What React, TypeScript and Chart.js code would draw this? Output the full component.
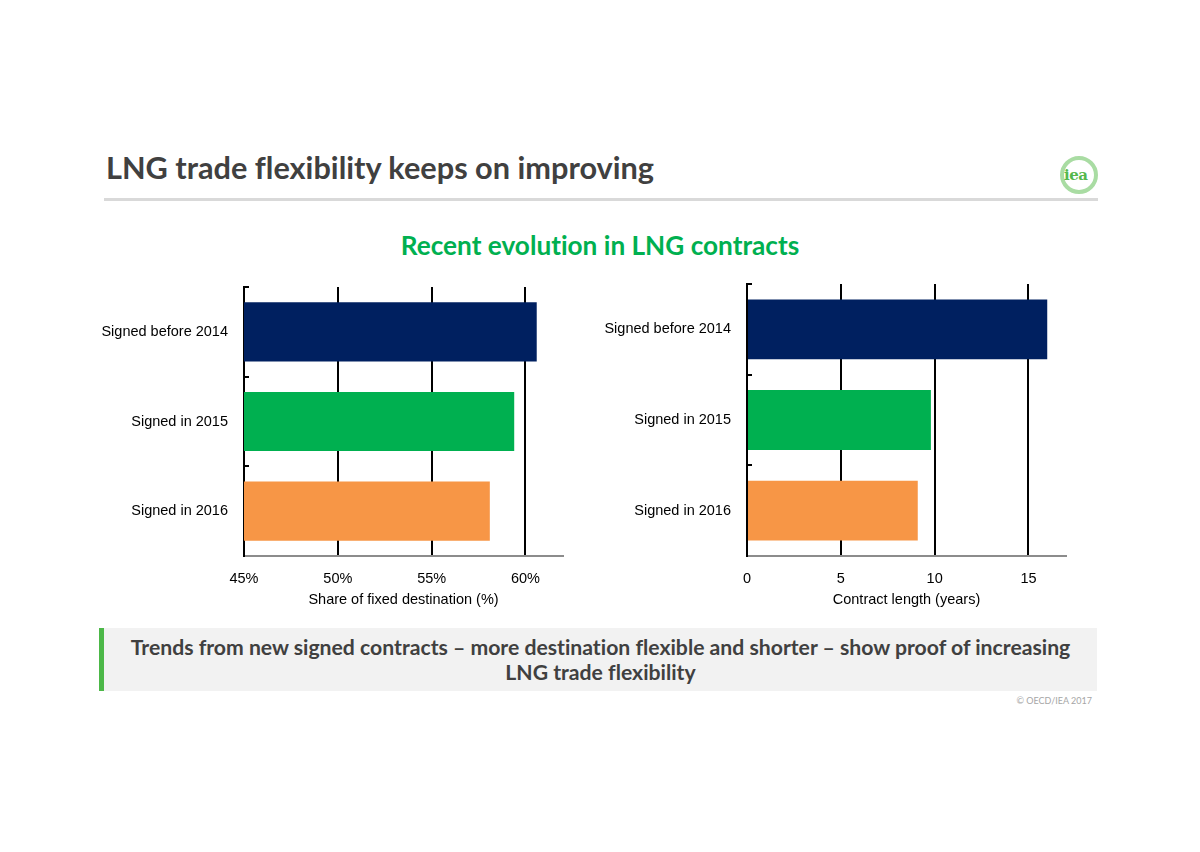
import React, { useEffect, useRef } from "react";
import { Chart, registerables } from "chart.js";

Chart.register(...registerables);

// Contract categories and bar colours
const categories = ["Signed before 2014", "Signed in 2015", "Signed in 2016"];
const barColors = ["#002060", "#00b050", "#f79646"];

// Share of contracts with fixed destination (%)
const fixedDestinationShare = [60.6, 59.4, 58.1];
// Average contract length (years)
const contractLengthYears = [16.0, 9.8, 9.1];

const AXIS_FONT = "'Liberation Sans', Arial, sans-serif";
const HEADING_FONT = "Lato, 'Open Sans', sans-serif";

type PanelProps = {
  values: number[];
  min: number;
  max: number;
  step: number;
  format: (v: number) => string;
  axisTitle: string;
  yWidth: number;
  padding: { top: number; right: number; bottom: number; left: number };
  style: React.CSSProperties;
};

function BarPanel(props: PanelProps) {
  const ref = useRef<HTMLCanvasElement | null>(null);
  useEffect(() => {
    if (!ref.current) return;
    const font = { family: AXIS_FONT, size: 14.5 };
    const chart = new Chart(ref.current, {
      type: "bar",
      data: {
        labels: categories,
        datasets: [
          {
            data: props.values,
            backgroundColor: barColors,
            borderWidth: 0,
            barPercentage: 0.66,
            categoryPercentage: 1,
          },
        ],
      },
      options: {
        indexAxis: "y",
        responsive: false,
        animation: false,
        layout: { padding: props.padding },
        plugins: { legend: { display: false }, tooltip: { enabled: false } },
        scales: {
          x: {
            type: "linear",
            min: props.min,
            max: props.max,
            ticks: {
              stepSize: props.step,
              includeBounds: false,
              padding: 14,
              color: "#000",
              font,
              callback: (v: any) => props.format(Number(v)),
            },
            grid: { color: "#000", lineWidth: 2, drawTicks: false },
            border: { color: "#8c8c8c", width: 2 },
            title: {
              display: true,
              text: props.axisTitle,
              color: "#000",
              font,
              padding: 0,
            },
            afterFit: (s: any) => {
              s.height = 53;
            },
          },
          y: {
            ticks: { padding: 21, color: "#000", font },
            grid: {
              offset: true,
              drawOnChartArea: false,
              tickLength: -5,
              color: "#000",
              lineWidth: 2,
            },
            border: { color: "#000", width: 2 },
            afterFit: (s: any) => {
              s.width = props.yWidth;
            },
          },
        },
      },
    } as any);
    return () => chart.destroy();
  }, []);
  return (
    <canvas
      ref={ref}
      width={props.style.width as number}
      height={props.style.height as number}
      style={{ position: "absolute", ...props.style }}
    />
  );
}

export default function App() {
  return (
    <div
      style={{
        position: "absolute",
        left: 0,
        top: 0,
        width: 1200,
        height: 852,
        background: "#fff",
        overflow: "hidden",
      }}
    >
      <div
        style={{
          position: "absolute",
          left: 106,
          top: 150,
          fontFamily: HEADING_FONT,
          fontWeight: 700,
          fontSize: 30.7,
          lineHeight: "36px",
          color: "#404040",
          whiteSpace: "nowrap",
          fontVariantLigatures: "none",
        }}
      >
        LNG trade flexibility keeps on improving
      </div>
      <div
        style={{
          position: "absolute",
          left: 104,
          top: 198,
          width: 994,
          height: 3,
          background: "#d9d9d9",
        }}
      />
      {/* IEA roundel */}
      <div
        style={{
          position: "absolute",
          left: 1060,
          top: 156,
          width: 30,
          height: 30,
          borderRadius: "50%",
          border: "4px solid #a9dca3",
        }}
      />
      <div
        style={{
          position: "absolute",
          left: 1064,
          top: 168,
          fontFamily: "'DejaVu Serif', serif",
          fontWeight: 700,
          fontSize: 15,
          lineHeight: "15px",
          color: "#55b84c",
          letterSpacing: -0.5,
        }}
      >
        iea
      </div>

      <div
        style={{
          position: "absolute",
          left: 0,
          width: 1200,
          top: 229,
          textAlign: "center",
          fontFamily: HEADING_FONT,
          fontWeight: 700,
          fontSize: 26.2,
          lineHeight: "32px",
          color: "#00b050",
          fontVariantLigatures: "none",
        }}
      >
        Recent evolution in LNG contracts
      </div>

      <BarPanel
        values={fixedDestinationShare}
        min={45}
        max={62}
        step={5}
        format={(v) => `${v}%`}
        axisTitle="Share of fixed destination (%)"
        yWidth={144}
        padding={{ top: 40, right: 17, bottom: 7, left: 0 }}
        style={{ left: 100, top: 247, width: 480, height: 369 }}
      />
      <BarPanel
        values={contractLengthYears}
        min={0}
        max={17}
        step={5}
        format={(v) => `${v}`}
        axisTitle="Contract length (years)"
        yWidth={147}
        padding={{ top: 40, right: 14, bottom: 7, left: 0 }}
        style={{ left: 600, top: 244, width: 480, height: 372 }}
      />

      <div
        style={{
          position: "absolute",
          left: 99,
          top: 628,
          width: 998,
          height: 63,
          background: "#f2f2f2",
        }}
      />
      <div
        style={{
          position: "absolute",
          left: 99,
          top: 628,
          width: 5,
          height: 63,
          background: "#4cb848",
        }}
      />
      <div
        style={{
          position: "absolute",
          left: 104,
          width: 993,
          top: 635,
          textAlign: "center",
          fontFamily: HEADING_FONT,
          fontWeight: 700,
          fontSize: 21.2,
          lineHeight: "25px",
          color: "#404040",
          fontVariantLigatures: "none",
        }}
      >
        Trends from new signed contracts – more destination flexible and shorter – show proof of increasing
        <br />
        LNG trade flexibility
      </div>
      <div
        style={{
          position: "absolute",
          right: 108,
          top: 695,
          fontFamily: HEADING_FONT,
          fontSize: 9,
          color: "#a6a6a6",
        }}
      >
        © OECD/IEA 2017
      </div>
    </div>
  );
}
